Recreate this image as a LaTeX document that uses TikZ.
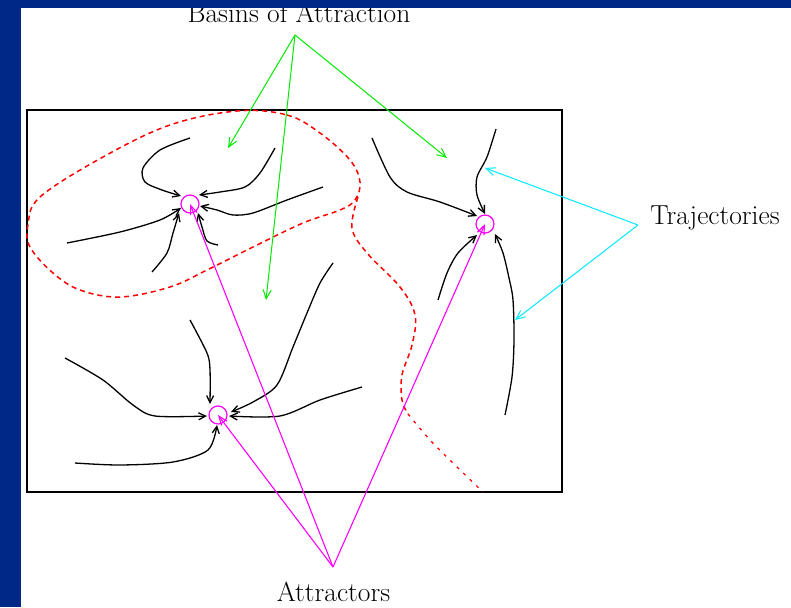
\documentclass[tikz,border=0pt]{standalone}
\usetikzlibrary{arrows.meta}
\definecolor{bgblue}{RGB}{0,41,135}
\definecolor{pgreen}{RGB}{0,235,0}
\definecolor{pcyan}{RGB}{0,235,255}
\definecolor{pmag}{RGB}{255,0,255}
\definecolor{pred}{RGB}{255,0,0}
\begin{document}
\begin{tikzpicture}[x=1pt,y=-1pt,
  traj/.style={line width=1.3pt, line join=round, -{Straight Barb[length=7pt,width=7pt]}},
  garrow/.style={pgreen, line width=1pt, -{Straight Barb[length=9pt,width=8pt]}},
  carrow/.style={pcyan, line width=1pt, -{Straight Barb[length=9pt,width=8pt]}},
  marrow/.style={pmag, line width=1.1pt, -{Straight Barb[length=9pt,width=7pt]}},
  attr/.style={circle, draw=pmag, line width=1.2pt, minimum size=18pt, inner sep=0pt},
  basin/.style={pred, line width=1.5pt, dash pattern=on 5pt off 4pt},
  lbl/.style={font=\fontsize{27.5}{31}\selectfont, anchor=base, inner sep=0pt}]
\useasboundingbox (0,0) rectangle (791,607);
\fill[white] (0,0) rectangle (791,607);

% labels
\node[lbl] (basins) at (299,23) {Basins of Attraction};
\node[lbl] (traject) at (715,224) {Trajectories};
\node[lbl] (attract) at (333.5,601) {Attractors};

% frame
\draw[line width=1.6pt] (27,110) rectangle (562,492);

% basin boundaries
\draw[basin] plot[smooth cycle, tension=0.6] coordinates {
  (237,111) (287,115) (320,133) (350,160) (360,182) (355,200) (340,210) (303,223)
  (253,247) (207,270) (170,287) (120,297) (80,290) (53,273) (30,247) (28,225) (40,197)
  (103,157) (170,125)};
\draw[basin] plot[smooth, tension=0.6] coordinates {
  (358,197) (352,228) (367,253) (400,287) (415,315) (412,345) (402,375) (402,400) (408,414)};
\draw[pred, line width=1.3pt, dash pattern=on 3pt off 6pt] plot[smooth] coordinates {
  (408,414) (430,440) (455,465) (483,492)};

% attractors
\node[attr] (A) at (190,204) {};
\node[attr] (B) at (218,415) {};
\node[attr] (C) at (485,224) {};

% trajectories into A
\draw[traj] plot[smooth] coordinates {(190,138) (160,150) (143,168) (145,182) (162,190) (181,196)};
\draw[traj] plot[smooth] coordinates {(275,148) (260,173) (245,187) (220,192) (199,195)};
\draw[traj] plot[smooth] coordinates {(323,187) (287,200) (253,213) (233,215) (217,210) (200,206)};
\draw[traj] plot[smooth] coordinates {(67,243) (120,232) (160,220) (181,208)};
\draw[traj] plot[smooth] coordinates {(152,272) (167,253) (173,233) (179,213)};
\draw[traj] plot[smooth] coordinates {(218,245) (207,241) (202,227) (198,213)};

% trajectories into B
\draw[traj] plot[smooth] coordinates {(190,320) (207,353) (210,370) (210,404)};
\draw[traj] plot[smooth] coordinates {(65,358) (103,380) (133,405) (155,416) (207,416)};
\draw[traj] plot[smooth] coordinates {(75,463) (120,465) (173,462) (208,450) (217,425)};
\draw[traj] plot[smooth] coordinates {(362,387) (320,400) (280,416) (229,416)};
\draw[traj] plot[smooth] coordinates {(333,263) (320,283) (307,313) (293,347) (277,385) (253,402) (231,412)};

% trajectories into C
\draw[traj] plot[smooth] coordinates {(372,138) (390,177) (407,192) (440,202) (477,216)};
\draw[traj] plot[smooth] coordinates {(496,129) (487,157) (477,177) (477,195) (485,214)};
\draw[traj] plot[smooth] coordinates {(438,300) (447,273) (458,253) (477,235)};
\draw[traj] plot[smooth] coordinates {(505,415) (512,377) (514,340) (513,300) (509,278) (503,253) (495,234)};

% green arrows
\coordinate (gapex) at (295,35);
\coordinate (g1) at (228,148);
\coordinate (g2) at (266,300);
\coordinate (g3) at (447,158);
\draw[garrow] (gapex) -- (g1);
\draw[garrow] (gapex) -- (g2);
\draw[garrow] (gapex) -- (g3);

% cyan arrows
\coordinate (capex) at (638,225);
\coordinate (c1) at (485,168);
\coordinate (c2) at (515,320);
\draw[carrow] (capex) -- (c1);
\draw[carrow] (capex) -- (c2);

% magenta arrows
\coordinate (mapex) at (333,567);
\draw[marrow] (mapex) -- (A.center);
\draw[marrow] (mapex) -- (B.center);
\draw[marrow] (mapex) -- (C.center);

% slide background
\fill[bgblue] (0,0) rectangle (21,607);
\fill[bgblue] (0,0) rectangle (791,8);
\end{tikzpicture}
\end{document}
